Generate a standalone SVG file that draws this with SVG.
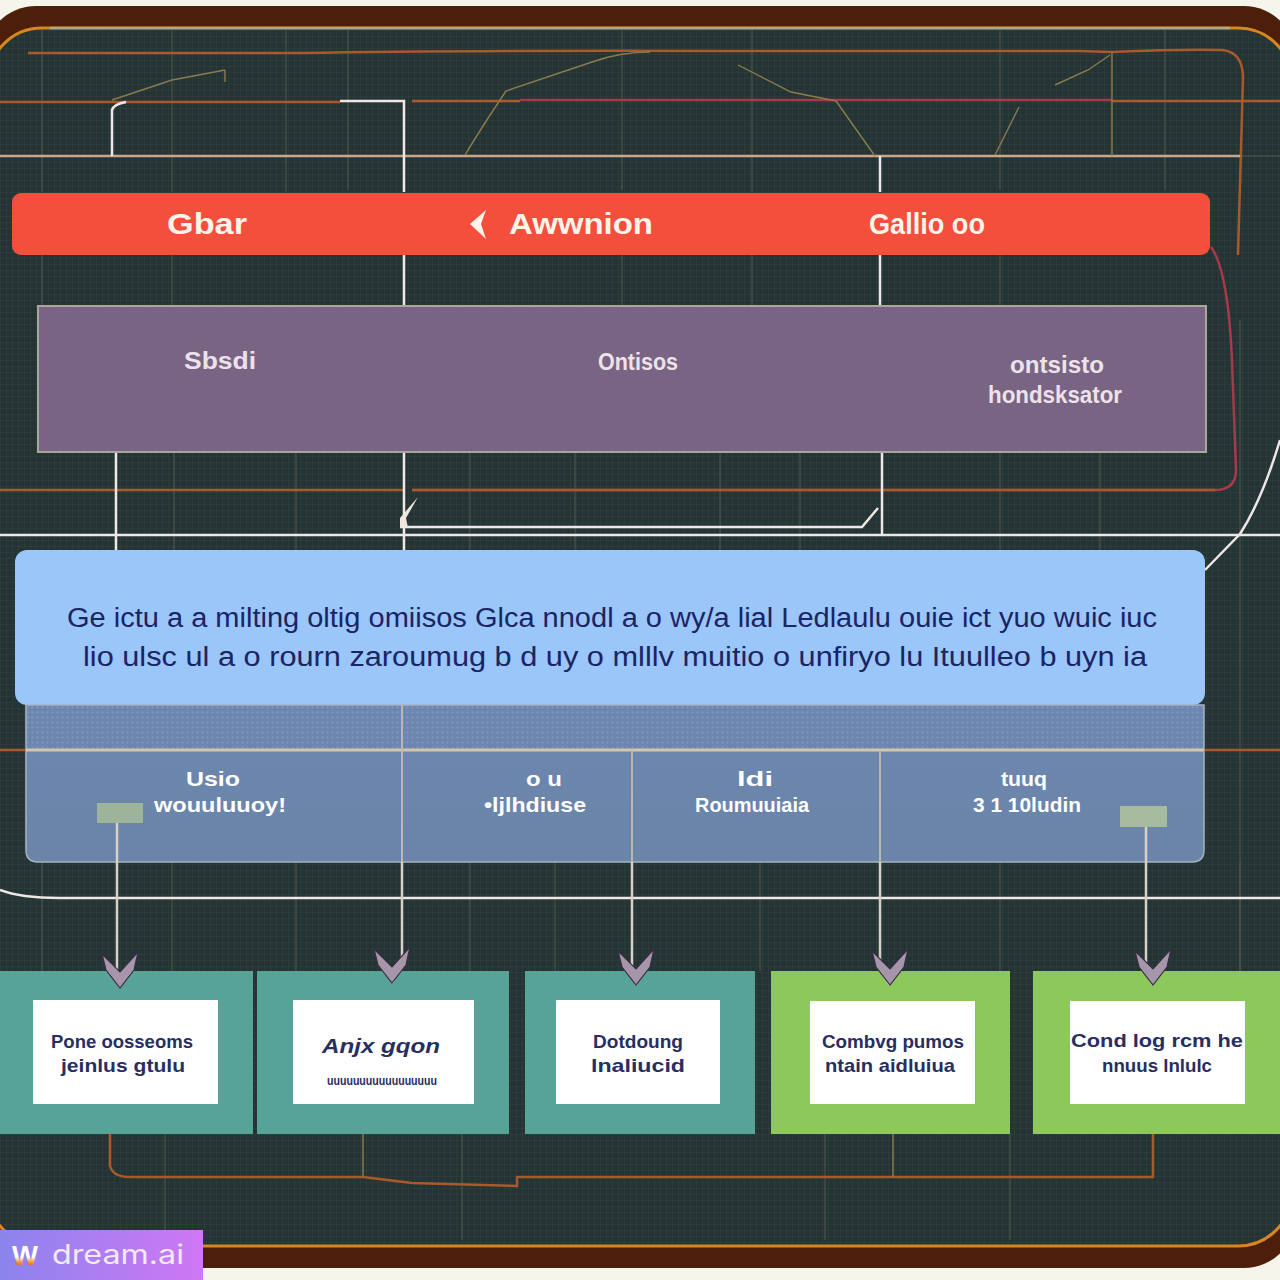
<svg xmlns="http://www.w3.org/2000/svg" width="1280" height="1280" viewBox="0 0 1280 1280">
<style>
text{font-family:"Liberation Sans","DejaVu Sans",sans-serif;text-anchor:middle}
.hd{font-size:30px;font-weight:bold;fill:#fff3ea}
.pu{font-size:23px;font-weight:bold;fill:#eee2ea}
.bl{font-size:27px;fill:#1b2464}
.st{font-size:21px;font-weight:bold;fill:#fff}
.bx{font-size:19px;font-weight:bold;fill:#272e62}
.tan{fill:none;stroke:#c9a68c;stroke-width:2.5}
.org{fill:none;stroke:#a9592c;stroke-width:2.5}
.red{fill:none;stroke:#a8394a;stroke-width:2.5}
.wht{fill:none;stroke:#efe6e6;stroke-width:2.5}
.thin{fill:none;stroke:#8f7a50;stroke-width:1.4}
.fain{fill:none;stroke:#7d7460;stroke-width:1;opacity:.55}
.arr{fill:none;stroke:#d8cfc8;stroke-width:2.5;marker-end:url(#chev)}
.frame{fill:#58a397}
.lime{fill:#8cc85c}
.card{fill:#fff}
</style>
<defs>
<pattern id="grid" width="6" height="6" patternUnits="userSpaceOnUse"><path d="M6 0H0V6" fill="none" stroke="#4f5f5a" stroke-width="1" opacity=".28"/></pattern>
<pattern id="dots" width="5" height="5" patternUnits="userSpaceOnUse"><circle cx="2.5" cy="2.5" r="1.1" fill="#a9c4ea" opacity=".3"/></pattern>
<linearGradient id="wm" x1="0" x2="1" y1="0" y2="0"><stop offset="0" stop-color="#8b84ee"/><stop offset="1" stop-color="#d077f4"/></linearGradient>
<linearGradient id="logo" x1="0" x2="0" y1="0" y2="1"><stop offset=".55" stop-color="#fff"/><stop offset=".7" stop-color="#f4a13c"/><stop offset=".85" stop-color="#e8503a"/><stop offset="1" stop-color="#62c8a8"/></linearGradient>
<linearGradient id="stl" x1="0" x2="0" y1="0" y2="1"><stop offset="0" stop-color="#6d87b0"/><stop offset="1" stop-color="#6b84a8"/></linearGradient>
<marker id="chev" viewBox="0 0 36 36" refX="18" refY="36" markerWidth="36" markerHeight="36" markerUnits="userSpaceOnUse" orient="0" overflow="visible">
<path d="M0 2 18 20 36 0 32 18 18 36 4 18 Z" fill="#a596aa" stroke="#3a2c45" stroke-width="1.2"/>
</marker>
</defs>

<g id="background">
<rect width="1280" height="1280" fill="#f6f5ec"/>
<rect x="-16" y="6" width="1312" height="1262" rx="52" fill="#4d1f0a"/>
<rect x="-12" y="28" width="1304" height="1218" rx="54" fill="#243434" stroke="#d8861e" stroke-width="3"/>
<rect x="-12" y="30" width="1304" height="1214" rx="54" fill="url(#grid)"/>
<path d="M50 28H1230" stroke="#a8a890" stroke-width="2.5" fill="none"/>
<g class="fain">
<path d="M42 30V192M172 30V192M286 30V192M348 30V190M622 30V190M752 30V192M1000 30V190M1165 30V190M42 255V306M172 255V306M622 255V306M752 255V306M1000 255V306"/>
<path d="M174 452V550M296 452V550M470 452V550M575 452V550M720 452V550M800 452V550M1000 452V550M1100 452V550M1240 320V1000"/>
<path d="M42 862V971M172 862V971M296 862V971M470 862V971M555 862V971M760 862V971M1000 862V971M1240 862V971M165 1134V1240M462 1134V1240M825 1134V1240M1010 1134V1240"/>
</g>
</g>

<g id="connectors">
<path class="org" d="M28 53H300Q470 50 760 51H1077L1112 52Q1180 49 1222 50Q1243 52 1243 78L1238 255"/>
<path class="org" d="M0 102H340"/>
<path class="org" d="M412 101H520M1112 101H1280"/>
<path class="red" d="M520 100H1112"/>
<path class="tan" d="M0 156H1240"/>
<path class="fain" d="M1240 156H1280M0 490H20"/>
<path class="wht" d="M112 156V110Q114 104 126 102"/>
<path class="wht" d="M340 101H404V192M404 255V306"/>
<path class="thin" d="M112 100 172 80 225 70M225 70V82M465 155Q480 130 506 91L592 62Q620 52 650 52M738 65 791 92 836 101 875 156M995 155 1019 107M1055 85 1088 70 1110 55M1112 52V156"/>
<path class="wht" d="M880 156V192M880 255V306"/>
<path class="org" d="M0 490H404"/>
<path class="red" d="M1211 247Q1228 270 1232 360L1236 470Q1236 490 1215 490H412" stroke-width="4"/>
<path class="org" d="M412 490H1215" stroke="#d2702c" stroke-width="2"/>
<path class="wht" d="M116 452V550M404 452V550M882 452V535"/>
<path class="wht" d="M0 535H1280" stroke-width="2.2"/>
<path class="wht" d="M400 527H862L878 508" stroke-width="3.5"/>
<path d="M418 497 400 518V528H408L406 518Z" fill="#efe6e0"/>
<path class="wht" d="M1205 570 1240 534Q1262 500 1280 440" stroke="#e6c8dc" stroke-width="1.8"/>
<path class="org" d="M1205 750H1280M0 750H26"/>
<path class="wht" d="M0 890Q20 898 60 898H1280" stroke-width="2"/>
<path class="org" d="M110 1134V1166Q113 1177 130 1177H363L412 1183 517 1186V1177H1153V1134"/>
<path class="thin" d="M363 1134V1177M893 1134V1177"/>
</g>

<g id="node-header">
<rect x="12" y="193" width="1198" height="62" rx="9" fill="#f44f3c"/>
<text class="hd" x="207" y="234" textLength="80" lengthAdjust="spacingAndGlyphs">Gbar</text>
<path d="M486 210 470 224 486 239 481 224Z" fill="#fff3ea"/>
<text class="hd" x="581" y="234" textLength="144" lengthAdjust="spacingAndGlyphs">Awwnion</text>
<text class="hd" x="927" y="234" textLength="116" lengthAdjust="spacingAndGlyphs">Gallio oo</text>
</g>

<g id="node-purple">
<rect x="38" y="306" width="1168" height="146" fill="#7a6484" stroke="#a9a79c" stroke-width="2"/>
<text class="pu" x="220" y="369" textLength="72" lengthAdjust="spacingAndGlyphs">Sbsdi</text>
<text class="pu" x="638" y="370" textLength="80" lengthAdjust="spacingAndGlyphs">Ontisos</text>
<text class="pu" x="1057" y="373" textLength="94" lengthAdjust="spacingAndGlyphs">ontsisto</text>
<text class="pu" x="1055" y="403" textLength="134" lengthAdjust="spacingAndGlyphs">hondsksator</text>
</g>

<g id="node-blue">
<rect x="15" y="550" width="1190" height="155" rx="12" fill="#9ac6f9"/>
<text class="bl" x="612" y="627" textLength="1090" lengthAdjust="spacingAndGlyphs">Ge ictu a a milting oltig omiisos Glca nnodl a o wy/a lial Ledlaulu ouie ict yuo wuic iuc</text>
<text class="bl" x="615" y="666" textLength="1064" lengthAdjust="spacingAndGlyphs">lio ulsc ul a o rourn zaroumug b d uy o mlllv muitio o unfiryo lu  Ituulleo b uyn ia</text>
</g>

<g id="node-steel">
<path d="M26 705H1204V850Q1204 862 1192 862H38Q26 862 26 850Z" fill="url(#stl)" stroke="#a7b3c4" stroke-width="1.5"/>
<rect x="27" y="706" width="1176" height="43" fill="url(#dots)"/>
<path d="M26 750H1204" stroke="#d5c4ae" stroke-width="3"/>
<path d="M402 705V862M632 750V862M880 750V862" stroke="#b9b7b0" stroke-width="2" fill="none"/>
<text class="st" x="213" y="786" textLength="54" lengthAdjust="spacingAndGlyphs">Usio</text>
<text class="st" x="220" y="812" textLength="132" lengthAdjust="spacingAndGlyphs">wouuluuoy!</text>
<text class="st" x="544" y="786" textLength="36" lengthAdjust="spacingAndGlyphs">o u</text>
<text class="st" x="535" y="812" textLength="102" lengthAdjust="spacingAndGlyphs">•ljlhdiuse</text>
<text class="st" x="755" y="786" textLength="36" lengthAdjust="spacingAndGlyphs">ldi</text>
<text class="st" x="752" y="812" textLength="114" lengthAdjust="spacingAndGlyphs">Roumuuiaia</text>
<text class="st" x="1024" y="786" textLength="46" lengthAdjust="spacingAndGlyphs">tuuq</text>
<text class="st" x="1027" y="812" textLength="108" lengthAdjust="spacingAndGlyphs">3 1 10ludin</text>
<rect x="97" y="803" width="46" height="20" fill="#9db49a"/>
<rect x="1120" y="806" width="47" height="21" fill="#a7bb9f"/>
</g>

<g id="node-box-1">
<rect class="frame" x="0" y="971" width="253" height="163"/>
<rect class="card" x="33" y="1000" width="185" height="104"/>
<text class="bx" x="122" y="1048" textLength="142" lengthAdjust="spacingAndGlyphs">Pone oosseoms</text>
<text class="bx" x="123" y="1072" textLength="124" lengthAdjust="spacingAndGlyphs">jeinlus gtulu</text>
</g>
<g id="node-box-2">
<rect class="frame" x="257" y="971" width="252" height="163"/>
<rect class="card" x="293" y="1000" width="181" height="104"/>
<text class="bx" x="381" y="1053" textLength="118" lengthAdjust="spacingAndGlyphs" font-style="italic" style="font-size:21px">Anjx gqon</text>
<text class="bx" x="382" y="1085" textLength="110" lengthAdjust="spacingAndGlyphs" style="font-size:12px">uuuuuuuuuuuuuuuuu</text>
</g>
<g id="node-box-3">
<rect class="frame" x="525" y="971" width="230" height="163"/>
<rect class="card" x="556" y="1000" width="164" height="104"/>
<text class="bx" x="638" y="1048" textLength="90" lengthAdjust="spacingAndGlyphs">Dotdoung</text>
<text class="bx" x="638" y="1072" textLength="94" lengthAdjust="spacingAndGlyphs">lnaliucid</text>
</g>
<g id="node-box-4">
<rect class="lime" x="771" y="971" width="239" height="163"/>
<rect class="card" x="810" y="1001" width="165" height="103"/>
<text class="bx" x="893" y="1048" textLength="142" lengthAdjust="spacingAndGlyphs">Combvg pumos</text>
<text class="bx" x="890" y="1072" textLength="130" lengthAdjust="spacingAndGlyphs">ntain aidluiua</text>
</g>
<g id="node-box-5">
<rect class="lime" x="1033" y="971" width="247" height="163"/>
<rect class="card" x="1070" y="1001" width="175" height="103"/>
<text class="bx" x="1157" y="1047" textLength="172" lengthAdjust="spacingAndGlyphs">Cond log rcm he</text>
<text class="bx" x="1157" y="1072" textLength="110" lengthAdjust="spacingAndGlyphs">nnuus lnlulc</text>
</g>

<g id="arrows">
<path class="arr" d="M117 823V970L120 988"/>
<path class="arr" d="M402 862V965L392 983"/>
<path class="arr" d="M632 862V970L636 985"/>
<path class="arr" d="M880 862V970L890 985"/>
<path class="arr" d="M1146 827V970L1153 985"/>
</g>

<g id="watermark">
<rect x="0" y="1230" width="203" height="50" fill="url(#wm)"/>
<text x="25" y="1265" textLength="26" lengthAdjust="spacingAndGlyphs" style="font-size:28px;font-weight:900;fill:url(#logo)">W</text>
<text x="118" y="1264" textLength="132" lengthAdjust="spacingAndGlyphs" style="font-family:'Inter','Liberation Sans',sans-serif;font-size:27px;fill:#f3e9fb">dream.ai</text>
</g>
</svg>
